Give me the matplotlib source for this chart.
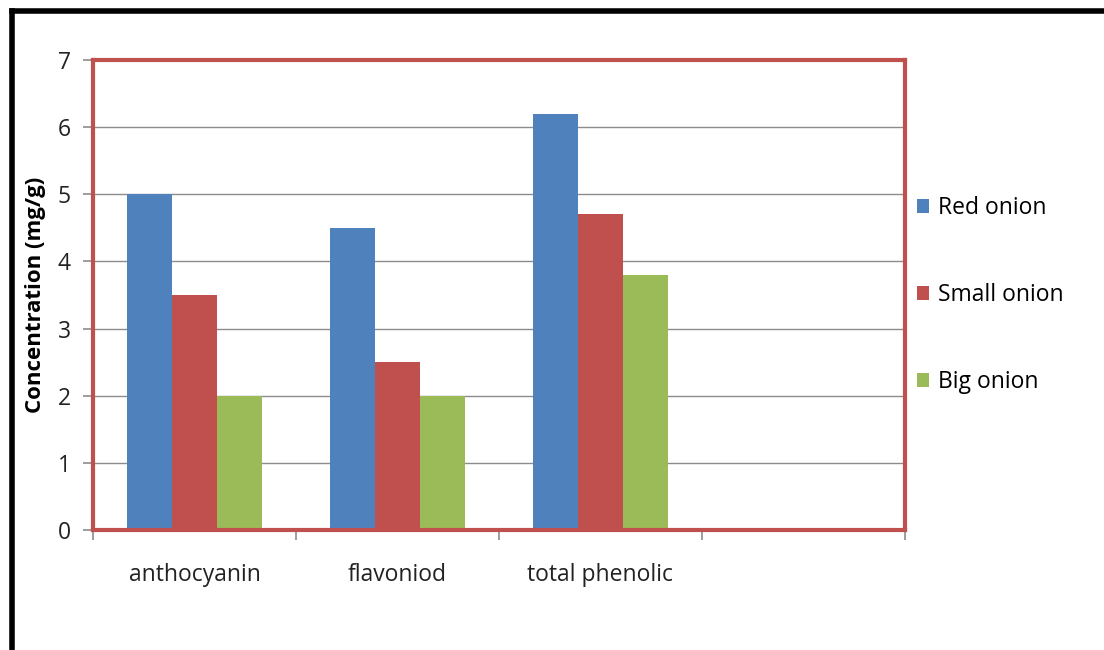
import numpy as np
import matplotlib.pyplot as plt
from matplotlib.lines import Line2D

plt.rcParams['font.family'] = ['Open Sans', 'DejaVu Sans']

categories = ['anthocyanin', 'flavoniod', 'total phenolic', '']
series = ['Red onion', 'Small onion', 'Big onion']
red_onion = [5.0, 4.5, 6.2]
small_onion = [3.5, 2.5, 4.7]
big_onion = [2.0, 2.0, 3.8]
colors = ['#4F81BD', '#C0504D', '#9BBB59']

fig = plt.figure(figsize=(11.04, 6.5), dpi=100)
ax = fig.add_axes([0.0842, 0.1846, 0.7355, 0.7231])

x = np.arange(3)
w = 0.222
for i, (vals, name) in enumerate(zip([red_onion, small_onion, big_onion], series)):
    ax.bar(x + (i - 1) * w, vals, width=w, color=colors[i], label=name, zorder=2)

ax.set_xlim(-0.5, 3.5)
ax.set_ylim(0, 7)
ax.set_yticks(range(0, 8))
ax.yaxis.grid(True, color='#8c8c8c', linewidth=1, zorder=0)
ax.set_axisbelow(True)

# category boundaries carry the ticks, labels sit at slot centres
ax.set_xticks(np.arange(-0.5, 4, 1))
ax.set_xticklabels([])
ax.set_xticks(np.arange(4), minor=True)
ax.set_xticklabels(categories, minor=True, fontsize=16.5, color='#222222')
ax.tick_params(axis='x', which='minor', length=0, pad=24)
ax.tick_params(axis='x', which='major', length=7, color='#8c8c8c', width=1.2)
ax.tick_params(axis='y', length=7, color='#8c8c8c', width=1.2, labelsize=16.5,
               pad=9, labelcolor='#222222')

for s in ax.spines.values():
    s.set_color('#C0504D')
    s.set_linewidth(3)
    s.set_zorder(3)

ax.set_ylabel('Concentration (mg/g)', fontsize=16, fontweight='bold', labelpad=8)

ax.legend(loc='center left', bbox_to_anchor=(1.003, 0.5), frameon=False, fontsize=16.5,
          labelspacing=2.75, handlelength=0.55, handleheight=0.55, handletextpad=0.4,
          borderaxespad=0)

# outer black frame (left and top edges visible)
fig.add_artist(Line2D([0.0105, 0.0105], [0.0, 0.983], color='black', linewidth=4,
                      transform=fig.transFigure, solid_capstyle='projecting'))
fig.add_artist(Line2D([0.0105, 1.0], [0.983, 0.983], color='black', linewidth=4,
                      transform=fig.transFigure, solid_capstyle='projecting'))

fig.savefig('out.png', dpi=100)
